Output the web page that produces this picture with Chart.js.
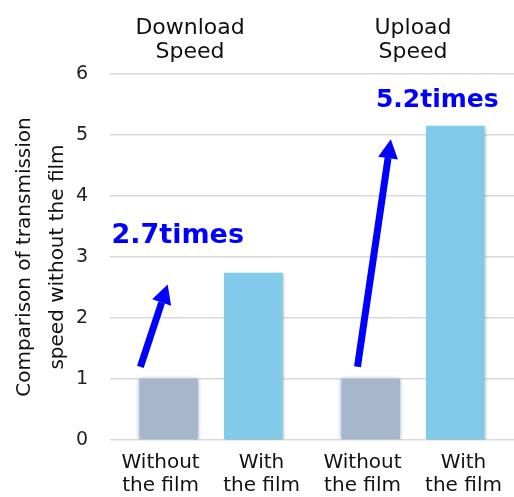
<!DOCTYPE html>
<html>
<head>
<meta charset="utf-8">
<script src="https://cdn.jsdelivr.net/npm/chart.js@4"></script>
<style>
  html, body { margin: 0; padding: 0; background: #fff; }
  #wrap { width: 514px; height: 497px; }
</style>
</head>
<body>
<div id="wrap"><canvas id="speedChart"></canvas></div>
<script>
// data
const groupLabels = [['Download      ', 'Speed      '], ['Upload', 'Speed']];
const barLabels = [['Without', 'the film'], ['With', 'the film'], ['Without', 'the film'], ['With', 'the film']];
const withoutFilm = [1, 1];
const withFilm = [2.74, 5.15];
const yTicks = [0, 1, 2, 3, 4, 5, 6];

// arrow annotations, in scale units (bottom axis index, y value)
const arrowFromX = [-0.2, 1.95];
const arrowFromY = [1.2, 1.2];
const arrowToX = [0.07, 2.28];
const arrowToY = [2.55, 4.93];
const ratioText = ['2.7times', '5.2times'];
const ratioX = [0.17, 2.74];
const ratioY = [3.35, 5.56];
const ratioSize = [27, 25];

const FONT = '"DejaVu Sans", Verdana, sans-serif';
const BLUE = '#0000ff';

const barShadow = {
    id: 'barShadow',
    beforeDatasetDraw(chart, args) {
        const ctx = chart.ctx;
        ctx.save();
        if (args.index === 0) {
            ctx.shadowColor = 'rgba(150,168,195,0.9)';
            ctx.shadowBlur = 4;
        } else {
            ctx.shadowColor = 'rgba(0,0,0,0.3)';
            ctx.shadowBlur = 3;
            ctx.shadowOffsetX = 1;
            ctx.shadowOffsetY = 1;
        }
    },
    afterDatasetDraw(chart) {
        chart.ctx.restore();
    }
};

function drawArrow(ctx, x1, y1, x2, y2) {
    const ang = Math.atan2(y2 - y1, x2 - x1);
    const headLen = 19, headW = 10;
    const bx = x2 - headLen * Math.cos(ang), by = y2 - headLen * Math.sin(ang);
    ctx.strokeStyle = BLUE;
    ctx.fillStyle = BLUE;
    ctx.lineWidth = 7;
    ctx.beginPath();
    ctx.moveTo(x1, y1);
    ctx.lineTo(bx, by);
    ctx.stroke();
    ctx.beginPath();
    ctx.moveTo(x2, y2);
    ctx.lineTo(bx + headW * Math.sin(ang), by - headW * Math.cos(ang));
    ctx.lineTo(bx - headW * Math.sin(ang), by + headW * Math.cos(ang));
    ctx.closePath();
    ctx.fill();
}

const annotations = {
    id: 'annotations',
    afterDatasetsDraw(chart) {
        const ctx = chart.ctx, xs = chart.scales.x, ys = chart.scales.y;
        ctx.save();
        for (let i = 0; i < arrowFromX.length; i++) {
            drawArrow(ctx,
                xs.getPixelForValue(arrowFromX[i]), ys.getPixelForValue(arrowFromY[i]),
                xs.getPixelForValue(arrowToX[i]), ys.getPixelForValue(arrowToY[i]));
        }
        ctx.textAlign = 'center';
        ctx.textBaseline = 'middle';
        ctx.fillStyle = BLUE;
        for (let i = 0; i < ratioText.length; i++) {
            ctx.font = 'bold ' + ratioSize[i] + 'px ' + FONT;
            ctx.fillText(ratioText[i], xs.getPixelForValue(ratioX[i]), ys.getPixelForValue(ratioY[i]));
        }
        ctx.restore();
    }
};

// note: chart.js sizes an axis with the tick padding on both sides of the labels
new Chart(document.getElementById('speedChart'), {
    type: 'bar',
    data: {
        labels: groupLabels,
        datasets: [{
            label: 'Without the film',
            data: withoutFilm,
            backgroundColor: '#a6b6cb',
            xAxisID: 'xg'
        }, {
            label: 'With the film',
            data: withFilm,
            backgroundColor: '#82cae9',
            xAxisID: 'xg'
        }]
    },
    options: {
        responsive: true,
        maintainAspectRatio: false,
        animation: false,
        categoryPercentage: 0.837,
        barPercentage: 0.694,
        layout: { padding: { top: 6.5, left: 0, right: 0, bottom: -11 } },
        plugins: {
            legend: { display: false },
            tooltip: { enabled: false }
        },
        scales: {
            xg: {
                type: 'category',
                position: 'top',
                labels: groupLabels,
                offset: true,
                grid: { display: false, drawTicks: false },
                border: { display: false },
                ticks: {
                    color: '#111',
                    padding: 10,
                    maxRotation: 0,
                    font: { family: FONT, size: 22, lineHeight: 1.08 }
                }
            },
            x: {
                type: 'category',
                position: 'bottom',
                labels: barLabels,
                offset: true,
                grid: { display: false, drawTicks: false },
                border: { display: false },
                ticks: {
                    color: '#111',
                    padding: 11,
                    maxRotation: 0,
                    autoSkip: false,
                    font: { family: FONT, size: 20, lineHeight: 1.15 }
                }
            },
            y: {
                min: 0,
                max: 6,
                afterBuildTicks(scale) {
                    scale.ticks = yTicks.map(v => ({ value: v }));
                },
                grid: { color: '#d9d9d9', lineWidth: 1.5, drawTicks: false },
                border: { display: false },
                ticks: {
                    color: '#222',
                    padding: 22,
                    font: { family: FONT, size: 19 }
                },
                title: {
                    display: true,
                    text: ['Comparison of transmission', 'speed without the film'],
                    color: '#111',
                    padding: { top: 8.5, bottom: -20.5 },
                    font: { family: FONT, size: 20, lineHeight: 1.65 }
                }
            }
        }
    },
    plugins: [barShadow, annotations]
});
</script>
</body>
</html>
